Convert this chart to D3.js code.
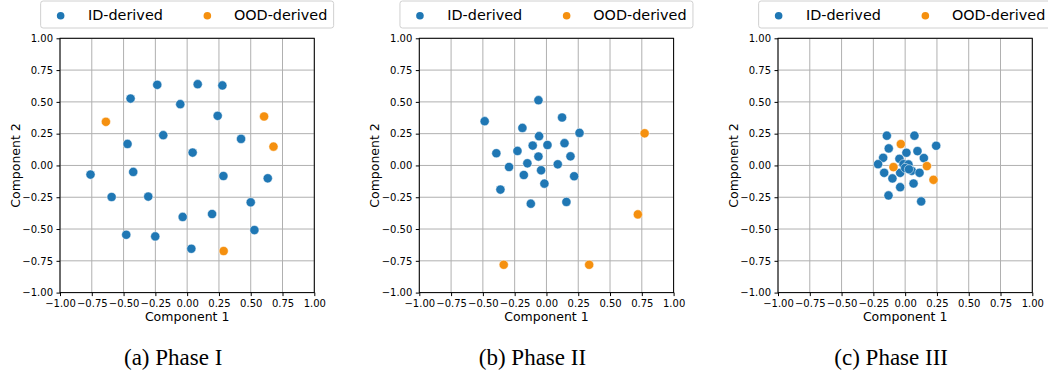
<!DOCTYPE html>
<html>
<head>
<meta charset="UTF-8">
<title>ID vs OOD derived - phases</title>
<style>
  body { margin: 0; background: #fff; }
  svg { display: block; }
</style>
</head>
<body>
<script src="https://d3js.org/d3.v7.min.js"></script>
<script>
// data: [component 1, component 2] per point
var phase1Id = [[-0.235,0.634],[0.083,0.639],[0.277,0.629],[-0.445,0.526],[-0.054,0.482],[0.240,0.390],
  [-0.188,0.238],[0.424,0.209],[-0.469,0.169],[0.043,0.101],[-0.760,-0.072],[-0.424,-0.051],[0.285,-0.083],
  [0.634,-0.101],[-0.594,-0.248],[-0.306,-0.245],[0.500,-0.290],[-0.035,-0.405],[0.196,-0.382],
  [-0.479,-0.545],[-0.251,-0.558],[0.529,-0.508],[0.033,-0.655]];
var phase1Ood = [[-0.639,0.343],[0.605,0.385],[0.679,0.148],[0.287,-0.673]];

var phase2Id = [[-0.063,0.513],[-0.486,0.348],[0.123,0.377],[-0.189,0.295],[0.260,0.256],[-0.058,0.230],
  [-0.394,0.096],[-0.228,0.114],[-0.108,0.156],[0.008,0.161],[0.142,0.175],[-0.063,0.070],[0.189,0.072],
  [-0.294,-0.012],[-0.150,0.017],[0.089,0.009],[-0.178,-0.075],[-0.042,-0.038],[0.218,-0.085],
  [-0.016,-0.143],[-0.362,-0.190],[-0.123,-0.301],[0.157,-0.287]];
var phase2Ood = [[0.772,0.253],[0.719,-0.385],[-0.336,-0.781],[0.336,-0.781]];

var phase3Id = [[-0.144,0.234],[0.073,0.234],[0.244,0.155],[-0.129,0.134],[0.097,0.113],[0.010,0.100],
  [-0.173,0.060],[0.147,0.058],[-0.045,0.052],[-0.213,0.010],[-0.013,0.010],[0.026,0.008],[-0.165,-0.058],
  [-0.100,-0.102],[-0.039,-0.058],[0.052,-0.042],[0.113,-0.058],[0.066,-0.142],[-0.039,-0.171],
  [-0.131,-0.236],[0.126,-0.283],[0.000,-0.020],[0.030,-0.030]];
var phase3Ood = [[-0.034,0.168],[-0.092,-0.013],[0.171,-0.005],[0.223,-0.113]];

var captions = ["(a) Phase I", "(b) Phase II", "(c) Phase III"];
var seriesNames = ["ID-derived", "OOD-derived"];
var tickValues = [-1, -0.75, -0.5, -0.25, 0, 0.25, 0.5, 0.75, 1];

var panels = [
  { id: phase1Id, ood: phase1Ood, caption: captions[0] },
  { id: phase2Id, ood: phase2Ood, caption: captions[1] },
  { id: phase3Id, ood: phase3Ood, caption: captions[2] }
];

var colors = ["#1f77b4", "#f5900f"];
var W = 1048, H = 370;
var axLeft = [60, 419.3, 778], axTop = 38.3, axSize = 254.3;

var svg = d3.select("body").append("svg")
  .attr("width", W).attr("height", H)
  .attr("font-family", "'DejaVu Sans', sans-serif");

panels.forEach(function(p, i) {
  var g = svg.append("g").attr("transform", "translate(" + axLeft[i] + "," + axTop + ")");

  var x = d3.scaleLinear().domain([-1, 1]).range([0, axSize]);
  var y = d3.scaleLinear().domain([-1, 1]).range([axSize, 0]);

  // grid
  g.append("g").selectAll("line.gx").data(tickValues).enter().append("line")
    .attr("x1", d => x(d)).attr("x2", d => x(d))
    .attr("y1", 0).attr("y2", axSize)
    .attr("stroke", "#b0b0b0").attr("stroke-width", 1);
  g.append("g").selectAll("line.gy").data(tickValues).enter().append("line")
    .attr("y1", d => y(d)).attr("y2", d => y(d))
    .attr("x1", 0).attr("x2", axSize)
    .attr("stroke", "#b0b0b0").attr("stroke-width", 1);

  // axes
  var fmt = d3.format(".2f");
  var xa = g.append("g").attr("transform", "translate(0," + axSize + ")")
    .call(d3.axisBottom(x).tickValues(tickValues).tickFormat(fmt).tickSize(3.5).tickPadding(3.5));
  var ya = g.append("g")
    .call(d3.axisLeft(y).tickValues(tickValues).tickFormat(fmt).tickSize(3.5).tickPadding(3.5));
  [xa, ya].forEach(function(a) {
    a.select(".domain").remove();
    a.selectAll("text").attr("font-size", 10).attr("font-family", "'DejaVu Sans', sans-serif").attr("fill", "#000");
    a.selectAll("line").attr("stroke", "#000");
  });

  // points
  g.append("g").selectAll("circle").data(p.id).enter().append("circle")
    .attr("cx", d => x(d[0])).attr("cy", d => y(d[1])).attr("r", 4.6)
    .attr("fill", colors[0]).attr("stroke", "#fff").attr("stroke-width", 0.5);
  g.append("g").selectAll("circle").data(p.ood).enter().append("circle")
    .attr("cx", d => x(d[0])).attr("cy", d => y(d[1])).attr("r", 4.6)
    .attr("fill", colors[1]).attr("stroke", "#fff").attr("stroke-width", 0.5);

  // frame
  g.append("rect").attr("width", axSize).attr("height", axSize)
    .attr("fill", "none").attr("stroke", "#000").attr("stroke-width", 1);

  // axis labels
  g.append("text").attr("x", axSize / 2).attr("y", axSize + 28.3)
    .attr("text-anchor", "middle").attr("font-size", 12.5).text("Component 1");
  g.append("text").attr("transform", "translate(-40.5," + axSize / 2 + ") rotate(-90)")
    .attr("text-anchor", "middle").attr("font-size", 12.5).text("Component 2");

  // legend
  var lg = g.append("g").attr("transform", "translate(" + (axSize / 2 - 146.5) + "," + (-axTop) + ")");
  lg.append("rect").attr("x", 0).attr("y", 1).attr("width", 293).attr("height", 27).attr("rx", 2.5)
    .attr("fill", "#fff").attr("stroke", "#d0d0d0").attr("stroke-width", 1);
  var itemX = [[20, 47.3], [166.7, 193.3]];
  seriesNames.forEach(function(name, k) {
    lg.append("circle").attr("cx", itemX[k][0]).attr("cy", 15.7).attr("r", 3.8).attr("fill", colors[k]);
    lg.append("text").attr("x", itemX[k][1]).attr("y", 20.2).attr("font-size", 14.4).text(name);
  });

  // caption
  svg.append("text").attr("x", axLeft[i] + axSize / 2 - 14).attr("y", 364.8)
    .attr("text-anchor", "middle").attr("font-family", "'Liberation Serif', 'Times New Roman', serif")
    .attr("font-size", 23).text(p.caption);
});
</script>
</body>
</html>
